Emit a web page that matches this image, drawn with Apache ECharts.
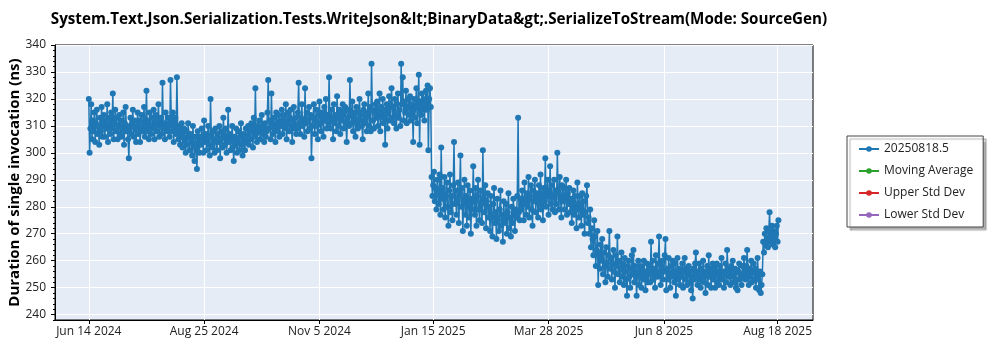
<!DOCTYPE html>
<html>
<head>
<meta charset="utf-8">
<script src="https://cdn.jsdelivr.net/npm/echarts@6/dist/echarts.min.js"></script>
<style>
  html, body { margin: 0; padding: 0; background: #fff; }
  #chart { width: 1000px; height: 350px; }
</style>
</head>
<body>
<div id="chart"></div>
<script>
// Benchmark history: two measured durations (ns) per day, 12 hours apart, starting FIRST_RUN.
const TITLE = 'System.Text.Json.Serialization.Tests.WriteJson&lt;BinaryData&gt;.SerializeToStream(Mode: SourceGen)';
const Y_NAME = 'Duration of single invocation (ns)';
const FIRST_RUN = '2024-06-14T12:00:00Z';
const RUN_SPACING_HOURS = 12;

const durations = [
  320, 300, 309, 318, 305, 312, 308, 315, 304, 311, 316, 307, 310, 303, 313, 308, 317, 306, 311, 314,
  306, 312, 309, 318, 304, 310, 313, 307, 315, 309, 322, 305, 311, 316, 308, 313, 305, 310, 314, 307,
  312, 306, 309, 315, 303, 311, 317, 308, 310, 305, 298, 309, 313, 307, 311, 316, 306, 312, 309, 304,
  310, 315, 307, 312, 304, 309, 314, 308, 311, 317, 306, 310, 323, 308, 312, 305, 315, 310, 307, 313,
  309, 316, 305, 311, 314, 308, 312, 318, 306, 310, 313, 307, 326, 309, 311, 305, 315, 310, 308, 313,
  310, 306, 327, 312, 308, 315, 304, 311, 313, 307, 328, 309, 305, 310, 303, 308, 311, 302, 306, 309,
  304, 300, 308, 303, 311, 306, 301, 307, 305, 299, 310, 303, 297, 306, 302, 294, 308, 304, 300, 306,
  303, 309, 306, 300, 312, 304, 307, 301, 305, 310, 303, 299, 320, 306, 302, 308, 304, 300, 309, 305,
  301, 307, 304, 310, 298, 305, 308, 302, 313, 306, 303, 309, 300, 305, 316, 304, 307, 301, 305, 310,
  302, 297, 306, 303, 309, 300, 304, 308, 301, 306, 311, 303, 299, 307, 305, 301, 309, 304, 306, 310,
  303, 308, 305, 311, 309, 302, 313, 306, 324, 307, 304, 310, 308, 312, 305, 309, 314, 307, 310, 304,
  311, 306, 308, 315, 327, 309, 312, 305, 322, 310, 307, 313, 309, 304, 315, 311, 308, 314, 306, 312,
  310, 316, 307, 312, 314, 309, 318, 305, 311, 315, 308, 313, 316, 310, 304, 312, 317, 309, 313, 307,
  309, 315, 326, 311, 307, 313, 318, 310, 312, 306, 324, 311, 315, 308, 312, 317, 309, 314, 298, 310,
  313, 318, 307, 312, 316, 310, 305, 314, 319, 311, 308, 315, 313, 306, 317, 312, 320, 309, 314, 311,
  328, 312, 309, 316, 313, 305, 318, 311, 314, 308, 321, 313, 310, 316, 307, 314, 312, 318, 309, 315,
  317, 311, 304, 313, 316, 310, 327, 314, 311, 319, 308, 315, 313, 306, 317, 311, 309, 315, 320, 312,
  314, 310, 305, 316, 318, 311, 313, 308, 315, 322, 310, 317, 308, 333, 316, 312, 309, 315, 318, 313,
  319, 310, 315, 322, 308, 317, 313, 320, 311, 316, 303, 314, 318, 309, 316, 321, 312, 318, 324, 313,
  317, 311, 320, 314, 309, 318, 322, 313, 316, 310, 333, 318, 328, 312, 319, 315, 323, 311, 317, 320,
  314, 321, 312, 318, 316, 304, 320, 313, 317, 324, 311, 318, 329, 303, 319, 314, 322, 316, 320, 312,
  318, 323, 316, 325, 301, 320, 324, 317,
  291, 284, 288, 293, 282, 287, 279, 290, 285, 281, 292, 277,
  302, 283, 287, 279, 291, 276, 284, 289, 280, 273, 286, 292, 278, 284, 275, 288, 304, 281, 286, 277,
  283, 289, 274, 285, 299, 280, 287, 271, 282, 290, 277, 284, 273, 288, 281, 276, 286, 270, 283, 279,
  295, 282, 277, 287, 273, 284, 290, 279, 275, 286, 281, 274, 301, 283, 278, 288, 272, 282, 285, 276,
  280, 271, 284, 276, 269, 281, 287, 274, 278, 268, 283, 275, 271, 279, 286, 273, 277, 267, 282, 276,
  274, 281, 270, 278, 285, 272, 276, 269, 280, 274, 283, 277, 271, 279, 276, 284, 313, 278, 275, 283,
  279, 286, 281, 275, 289, 283, 277, 285, 280, 291, 276, 284, 288, 279, 273, 286, 282, 290, 278, 285,
  283, 276, 288, 281, 292, 279, 285, 275, 287, 282, 298, 280, 286, 290, 277, 284, 295, 281, 288, 279,
  284, 290, 278, 286, 281, 300, 285, 279, 291, 283, 276, 288, 282, 287, 279, 284, 290, 277, 285, 281,
  287, 278, 283, 274, 281, 286, 277, 284, 279, 272, 289, 281, 276, 284, 280, 273, 285, 277, 282, 270,
  278, 284, 288, 274, 276, 270, 279, 265, 272, 268, 262, 275, 269, 258, 264, 271, 251, 263, 257, 266,
  260, 268, 255, 263, 258, 252, 265, 259, 254, 262, 271, 257, 261, 253, 259, 264, 256, 250, 262, 258,
  269, 255, 260, 252, 257, 263, 254, 259, 251, 261, 256, 253, 247, 258, 260, 254, 250, 257, 262, 255,
  264, 252, 258, 254, 247, 256, 260, 251, 255, 258, 250, 257, 253, 260, 256, 249, 254, 259, 252, 256,
  258, 252, 267, 255, 260, 253, 257, 250, 262, 256, 254, 259, 269, 255, 251, 258, 260, 253, 256, 262,
  268, 249, 257, 253, 261, 255, 250, 258, 254, 260, 256, 252, 259, 247, 255, 261, 253, 257, 251, 256,
  254, 259, 250, 256, 261, 253, 257, 251, 255, 258, 252, 256, 249, 254, 246, 257, 253, 259, 263, 255,
  251, 256, 259, 253, 250, 257, 254, 260, 252, 255, 248, 256, 258, 251, 262, 254, 257, 250, 255, 259,
  253, 257, 250, 255, 259, 252, 256, 251, 258, 254, 261, 253, 256, 250, 255, 259, 252, 264, 257, 254,
  256, 251, 258, 254, 260, 252, 255, 257, 250, 253, 249, 256, 259, 253, 255, 251, 258, 254, 261, 256,
  253, 258, 264, 255, 251, 257, 254, 260, 252, 256, 259, 253, 257, 250, 255, 261, 253, 249, 256, 248,
  251, 255, 267, 263, 270, 266, 272, 268, 265, 271, 278, 267, 269, 273, 266, 271, 268, 265, 270, 273, 267, 275
];

const seriesNames = ['20250818.5', 'Moving Average', 'Upper Std Dev', 'Lower Std Dev'];
const seriesColors = ['#1f77b4', '#2ca02c', '#d62728', '#9467bd'];

const xTickDates = ['2024-06-14', '2024-08-25', '2024-11-05', '2025-01-15', '2025-03-28', '2025-06-08', '2025-08-18'];
const yTicks = [240, 250, 260, 270, 280, 290, 300, 310, 320, 330, 340];

const MONTHS = ['Jan', 'Feb', 'Mar', 'Apr', 'May', 'Jun', 'Jul', 'Aug', 'Sep', 'Oct', 'Nov', 'Dec'];
const DAY = 86400000;
const HOUR = 3600000;
const FONT = "'Open Sans', 'Noto Sans', sans-serif";

function parseDay(s) {
  const p = s.split('-').map(Number);
  return Date.UTC(p[0], p[1] - 1, p[2]);
}
function formatDay(v) {
  const d = new Date(v);
  return MONTHS[d.getUTCMonth()] + ' ' + d.getUTCDate() + ' ' + d.getUTCFullYear();
}

const firstRun = Date.parse(FIRST_RUN);
const points = durations.map((v, i) => [firstRun + i * RUN_SPACING_HOURS * HOUR, v]);

// visible time window around the runs
const xMin = parseDay('2024-06-14') - 20.6 * DAY;
const xMax = parseDay('2024-06-14') + 452.6 * DAY;
const xTickValues = xTickDates.map(s => parseDay(s) + 0.5 * DAY);

const yMin = 238, yMax = 340;
const yMinorValues = [];
for (let v = yMin; v <= yMax; v += 2) yMinorValues.push(v);

const chart = echarts.init(document.getElementById('chart'), null, { renderer: 'canvas' });

const series = seriesNames.map((name, i) => ({
  name: name,
  type: 'line',
  data: i === 0 ? points : [],
  color: seriesColors[i],
  symbol: 'circle',
  symbolSize: 6,
  showSymbol: true,
  lineStyle: { width: 1.5, color: seriesColors[i] },
  itemStyle: { color: seriesColors[i] },
  emphasis: { disabled: true }
}));

chart.setOption({
  animation: false,
  backgroundColor: '#fff',
  title: {
    text: TITLE,
    left: 434,
    textAlign: 'center',
    top: 7,
    textStyle: { fontFamily: FONT, fontWeight: 'bold', fontSize: 15.2, color: '#000' }
  },
  legend: {
    orient: 'vertical',
    left: 847,
    top: 136,
    padding: [6, 10, 5, 11],
    itemGap: 8,
    itemWidth: 20,
    itemHeight: 7,
    backgroundColor: '#fff',
    borderColor: '#444',
    borderWidth: 1,
    shadowColor: 'rgba(0,0,0,0.3)',
    shadowOffsetX: 3,
    shadowOffsetY: 3,
    shadowBlur: 1,
    textStyle: { fontFamily: FONT, fontSize: 12, color: '#222', lineHeight: 14 },
    data: seriesNames
  },
  grid: {
    left: 55, right: 187, top: 45, bottom: 30,
    outerBoundsMode: 'none',
    show: true,
    backgroundColor: '#e5ecf6',
    borderColor: '#000',
    borderWidth: 1
  },
  xAxis: {
    type: 'value',
    min: xMin,
    max: xMax,
    axisLine: { show: true, lineStyle: { color: '#000', width: 1 } },
    axisTick: { show: true, customValues: xTickValues, length: 4, lineStyle: { color: '#000' } },
    axisLabel: {
      customValues: xTickValues,
      formatter: formatDay,
      fontFamily: FONT, fontSize: 12, color: '#222', margin: 6
    },
    splitLine: { show: true, lineStyle: { color: '#fff', width: 1 } }
  },
  yAxis: [{
    type: 'value',
    min: yMin,
    max: yMax,
    name: Y_NAME,
    nameLocation: 'middle',
    nameGap: 33,
    nameMoveOverlap: false,
    nameTextStyle: { fontFamily: FONT, fontWeight: 'bold', fontSize: 15, color: '#000' },
    axisLine: { show: true, lineStyle: { color: '#000', width: 1 } },
    axisTick: { show: true, customValues: yTicks, length: 4, lineStyle: { color: '#000' } },
    axisLabel: {
      customValues: yTicks,
      fontFamily: FONT, fontSize: 12, color: '#222', margin: 9
    },
    splitLine: { show: true, lineStyle: { color: '#fff', width: 1 } }
  }, {
    type: 'value',
    min: yMin,
    max: yMax,
    position: 'left',
    axisLine: { show: false },
    axisTick: { show: true, customValues: yMinorValues, length: 2, lineStyle: { color: '#000' } },
    axisLabel: { show: false },
    splitLine: { show: false }
  }],
  series: series
});
</script>
</body>
</html>
